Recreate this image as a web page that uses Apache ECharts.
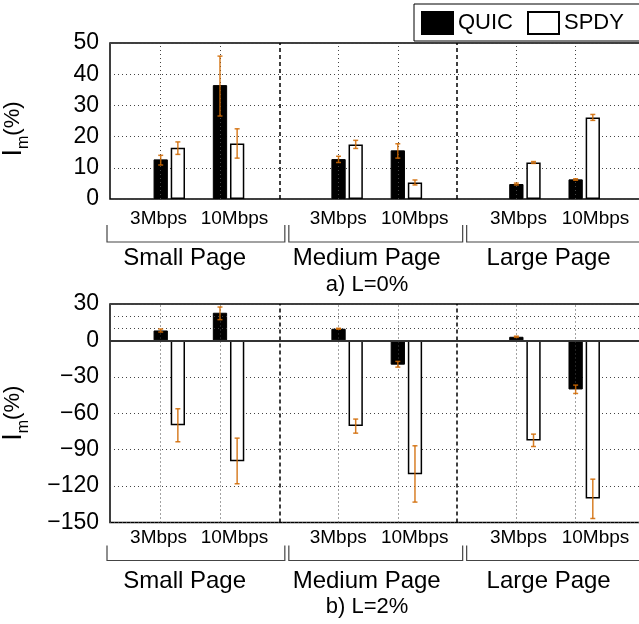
<!DOCTYPE html>
<html><head><meta charset="utf-8">
<script src="https://cdn.jsdelivr.net/npm/echarts@6/dist/echarts.min.js"></script>
<style>html,body{margin:0;padding:0;background:#fff}#c{width:639px;height:624px}</style>
</head><body><div id="c"></div><script>
// ---- data ----
const pages = ['Small Page', 'Medium Page', 'Large Page'];
const rateLabels = ['3Mbps', '10Mbps', '3Mbps', '10Mbps', '3Mbps', '10Mbps'];
const barPos = [1, 2, 4, 5, 7, 8];
const rateLabelPos = [0.82, 2.10, 3.85, 5.14, 6.89, 8.19];
const pageLabelPos = [1.26, 4.33, 7.40];
const groupBounds = [[0, 3], [3, 6], [6, 9]];
const dottedX = [1, 2, 4, 5, 7, 8];
const dashedX = [3, 6];
const extraGridBottom = [10, 20];

// a) L=0%
const quic0 = [12.7, 36.5, 12.8, 15.6, 4.8, 6.3];
const quic0Err = [[10.9, 14.0], [26.6, 45.8], [11.7, 13.7], [13.1, 17.7], [4.5, 5.1], [6.0, 6.5]];
const spdy0 = [16.4, 17.8, 17.5, 5.3, 11.7, 26.1];
const spdy0Err = [[14.3, 18.3], [13.1, 22.5], [16.2, 18.8], [4.5, 6.1], [11.4, 12.0], [25.2, 27.1]];
// b) L=2%
const quic2 = [8.2, 22.8, 9.6, -20.0, 3.0, -40.4];
const quic2Err = [[6.9, 9.4], [17.1, 27.5], [9.2, 10.0], [-22.0, -17.3], [2.5, 3.5], [-43.7, -36.8]];
const spdy2 = [-69.8, -99.5, -70.6, -110.2, -82.4, -130.2];
const spdy2Err = [[-83.5, -56.3], [-118.1, -80.5], [-76.4, -64.8], [-133.2, -86.8], [-87.4, -77.2], [-146.7, -114.3]];

// ---- styles ----
const FONT = "'Liberation Sans', Arial, Helvetica, sans-serif";
const BAR_W = 14.3, BAR_GAP = 0.2;
const OFF = BAR_W * (1 + BAR_GAP) / 2;
const ERR_COLOR = 'rgba(208,104,0,0.85)';

function closestIdx(arr, v) {
  let b = 0;
  arr.forEach((a, i) => { if (Math.abs(a - v) < Math.abs(arr[b] - v)) b = i; });
  return b;
}
function minus(v) { return String(v).replace('-', '\u2212'); }

function xAxes(gridIndex, rateMargin, pageMargin) {
  return [
    {
      type: 'value', gridIndex, min: 0, max: 9, interval: 1,
      axisLine: { show: false }, axisTick: { show: false }, splitLine: { show: false },
      axisLabel: {
        customValues: rateLabelPos, margin: rateMargin, color: '#000', fontSize: 19, fontFamily: FONT,
        formatter: v => rateLabels[closestIdx(rateLabelPos, v)]
      }
    },
    {
      type: 'value', gridIndex, min: 0, max: 9, position: 'bottom',
      axisLine: { show: false }, axisTick: { show: false }, splitLine: { show: false },
      axisLabel: {
        customValues: pageLabelPos, margin: pageMargin, color: '#000', fontSize: 24, fontFamily: FONT,
        formatter: v => pages[closestIdx(pageLabelPos, v)]
      }
    }
  ];
}

function yName(pad) {
  return {
    name: '{a|I}{b|m}{c|(%)}',
    nameLocation: 'middle', nameRotate: 90,
    nameTextStyle: {
      color: '#000', fontFamily: FONT, padding: pad,
      rich: {
        a: { fontSize: 27, fontFamily: FONT, color: '#000', verticalAlign: 'bottom', padding: [0, 0, 5, 0] },
        b: { fontSize: 16, fontFamily: FONT, color: '#000', verticalAlign: 'bottom' },
        c: { fontSize: 22, fontFamily: FONT, color: '#000', verticalAlign: 'bottom', padding: [0, 0, 8, 0] }
      }
    }
  };
}

function errSeries(xi, yi, data, sign) {
  return {
    type: 'custom', xAxisIndex: xi, yAxisIndex: yi, z: 10, silent: true,
    data: barPos.map((x, i) => [x, data[i][0], data[i][1]]),
    encode: { x: 0, y: [1, 2] },
    renderItem: (params, api) => {
      const x = api.value(0);
      const a = api.coord([x, api.value(1)]);
      const b = api.coord([x, api.value(2)]);
      const cx = a[0] + sign * OFF;
      const st = { stroke: ERR_COLOR, lineWidth: 1.5 };
      return {
        type: 'group', children: [
          { type: 'line', shape: { x1: cx, y1: a[1], x2: cx, y2: b[1] }, style: st },
          { type: 'line', shape: { x1: cx - 2.5, y1: a[1], x2: cx + 2.5, y2: a[1] }, style: st },
          { type: 'line', shape: { x1: cx - 2.5, y1: b[1], x2: cx + 2.5, y2: b[1] }, style: st }
        ]
      };
    }
  };
}

function bracketSeries(xi, yi, yMin, top, bottom) {
  return {
    type: 'custom', xAxisIndex: xi, yAxisIndex: yi, silent: true, clip: false,
    data: groupBounds.map(g => [g[0], g[1], yMin]),
    encode: { x: [0, 1], y: 2 },
    renderItem: (params, api) => {
      const p0 = api.coord([api.value(0), api.value(2)]);
      const p1 = api.coord([api.value(1), api.value(2)]);
      const l = p0[0] + (params.dataIndex === 0 ? -3 : 1);
      const r = p1[0] - 3;
      const y = p0[1];
      return {
        type: 'polyline',
        shape: { points: [[l, y + top], [l, y + bottom], [r, y + bottom], [r, y + top]] },
        style: { stroke: '#444', lineWidth: 1.2, fill: null }
      };
    }
  };
}

function gridLines(extraY) {
  const data = [];
  dottedX.forEach(x => data.push({ xAxis: x, lineStyle: { type: [1, 3], color: '#444', width: 1 } }));
  dashedX.forEach(x => data.push({ xAxis: x, lineStyle: { type: [4, 3], color: '#000', width: 1.5 } }));
  (extraY || []).forEach(y => data.push({ yAxis: y, lineStyle: { type: [1, 3], color: '#444', width: 1 } }));
  return data;
}

const option = {
  animation: false,
  textStyle: { fontFamily: FONT },
  title: [
    { text: 'a) L=0%', left: 362, top: 269, textAlign: 'center', textStyle: { fontSize: 22, fontWeight: 'normal', color: '#000', fontFamily: FONT } },
    { text: 'b) L=2%', left: 362, top: 591, textAlign: 'center', textStyle: { fontSize: 22, fontWeight: 'normal', color: '#000', fontFamily: FONT } }
  ],
  legend: {
    data: ['QUIC', 'SPDY'], left: 414, top: 4, orient: 'horizontal', width: 300,
    icon: 'rect', itemWidth: 31, itemHeight: 22, itemGap: 14,
    padding: [7, 20, 6, 7], borderColor: '#000', borderWidth: 1, backgroundColor: '#fff',
    textStyle: { fontSize: 22, color: '#000', fontFamily: FONT }
  },
  grid: [
    { left: 110, top: 43, width: 533.5, height: 156, show: true, borderColor: '#000', borderWidth: 1.5, backgroundColor: 'transparent', containLabel: false, outerBoundsMode: 'none' },
    { left: 110, top: 304, width: 533.5, height: 218.5, show: true, borderColor: '#000', borderWidth: 1.5, backgroundColor: 'transparent', containLabel: false, outerBoundsMode: 'none' }
  ],
  xAxis: [...xAxes(0, 10, 47), ...xAxes(1, 6, 47)],
  yAxis: [
    Object.assign({
      type: 'value', gridIndex: 0, min: 0, max: 50, interval: 10, nameGap: 78,
      axisLine: { show: false }, axisTick: { show: false },
      splitLine: { lineStyle: { type: [1, 3], color: '#444' } },
      axisLabel: { color: '#000', fontSize: 23, margin: 11, fontFamily: FONT, formatter: v => minus(v) }
    }, yName([0, 16, 0, 0])),
    Object.assign({
      type: 'value', gridIndex: 1, min: -150, max: 30, interval: 30, nameGap: 78,
      axisLine: { show: false }, axisTick: { show: false },
      splitLine: { lineStyle: { type: [1, 3], color: '#444' } },
      axisLabel: { color: '#000', fontSize: 23, margin: 11, fontFamily: FONT, formatter: v => minus(v) }
    }, yName(0))
  ],
  series: [
    {
      name: 'QUIC', type: 'bar', xAxisIndex: 0, yAxisIndex: 0,
      barWidth: BAR_W, barGap: '20%',
      itemStyle: { color: '#000', borderColor: '#000', borderWidth: 1 },
      data: barPos.map((x, i) => [x, quic0[i]]),
      markLine: { silent: true, symbol: 'none', label: { show: false }, data: gridLines() }
    },
    {
      name: 'SPDY', type: 'bar', xAxisIndex: 0, yAxisIndex: 0,
      barWidth: BAR_W, barGap: '20%',
      itemStyle: { color: '#fff', borderColor: '#000', borderWidth: 1.5 },
      data: barPos.map((x, i) => [x, spdy0[i]])
    },
    {
      name: 'QUIC', type: 'bar', xAxisIndex: 2, yAxisIndex: 1,
      barWidth: BAR_W, barGap: '20%',
      itemStyle: { color: '#000', borderColor: '#000', borderWidth: 1 },
      data: barPos.map((x, i) => [x, quic2[i]]),
      markLine: {
        silent: true, symbol: 'none', label: { show: false },
        data: gridLines(extraGridBottom).concat([{ yAxis: 0, lineStyle: { type: 'solid', color: '#333', width: 2 } }])
      }
    },
    {
      name: 'SPDY', type: 'bar', xAxisIndex: 2, yAxisIndex: 1,
      barWidth: BAR_W, barGap: '20%',
      itemStyle: { color: '#fff', borderColor: '#000', borderWidth: 1.5 },
      data: barPos.map((x, i) => [x, spdy2[i]])
    },
    errSeries(0, 0, quic0Err, -1),
    errSeries(0, 0, spdy0Err, 1),
    errSeries(2, 1, quic2Err, -1),
    errSeries(2, 1, spdy2Err, 1),
    bracketSeries(0, 0, 0, 26, 43),
    bracketSeries(2, 1, -150, 23, 38)
  ]
};

const chart = echarts.init(document.getElementById('c'), null, { renderer: 'canvas' });
chart.setOption(option);
</script></body></html>
